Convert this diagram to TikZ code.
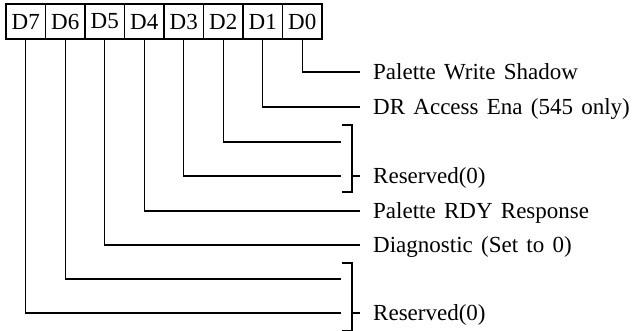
\documentclass[tikz,border=0pt]{standalone}
\usepackage{fontspec}
\setmainfont{Liberation Serif}
\usepackage{tikz}
\usetikzlibrary{positioning,calc}

\begin{document}
\begin{tikzpicture}[
  x=1bp, y=-1bp,
  font=\fontsize{23bp}{27bp}\selectfont,
  bitcell/.style={draw=black, line width=1.2bp, minimum width=39.5bp, minimum height=35bp, inner sep=0pt, outer sep=0pt},
  fieldlbl/.style={anchor=west, inner xsep=13bp, inner ysep=0pt, text height=15bp, text depth=0pt,
    execute at begin node={\spaceskip=0.36em\relax}},
  bitline/.style={draw=black, line width=1.2bp},
  bracket/.style={draw=black, line width=1.2bp}
]
  \useasboundingbox (0,0) rectangle (636,330);
  % register cells
  \node[bitcell] (d7) at (25.75,21.5) {D7};
  \node[bitcell, right=0pt of d7] (d6) {D6};
  \node[bitcell, right=0pt of d6] (d5) {D5};
  \node[bitcell, right=0pt of d5] (d4) {D4};
  \node[bitcell, right=0pt of d4] (d3) {D3};
  \node[bitcell, right=0pt of d3] (d2) {D2};
  \node[bitcell, right=0pt of d2] (d1) {D1};
  \node[bitcell, right=0pt of d1] (d0) {D0};
  % field labels
  \node[fieldlbl] (lbl0) at (360,72) {Palette Write Shadow};
  \node[fieldlbl] (lbl1) at (360,107) {DR Access Ena (545 only)};
  \node[fieldlbl] (res1) at (360,176) {Reserved(0)};
  \node[fieldlbl] (lbl4) at (360,211) {Palette RDY Response};
  \node[fieldlbl] (lbl5) at (360,245) {Diagnostic (Set to 0)};
  \node[fieldlbl] (res2) at (360,313) {Reserved(0)};
  % free ends of the reserved bits
  \coordinate (e2) at (341,142);
  \coordinate (e3) at (341,176);
  \coordinate (e6) at (341,279);
  \coordinate (e7) at (341,313);
  \draw[bitline] (d0.south) |- (lbl0.west);
  \draw[bitline] (d1.south) |- (lbl1.west);
  \draw[bitline] (d2.south) |- (e2);
  \draw[bitline] (d3.south) |- (e3);
  \draw[bitline] (d4.south) |- (lbl4.west);
  \draw[bitline] (d5.south) |- (lbl5.west);
  \draw[bitline] (d6.south) |- (e6);
  \draw[bitline] (d7.south) |- (e7);
  % brackets
  \draw[bracket] (342,125) -- (352,125) -- (352,192) -- (342,192);
  \draw[bracket] (352,176) -- (res1.west);
  \draw[bracket] (342,263) -- (352,263) -- (352,331) -- (342,331);
  \draw[bracket] (352,313) -- (res2.west);
\end{tikzpicture}
\end{document}
